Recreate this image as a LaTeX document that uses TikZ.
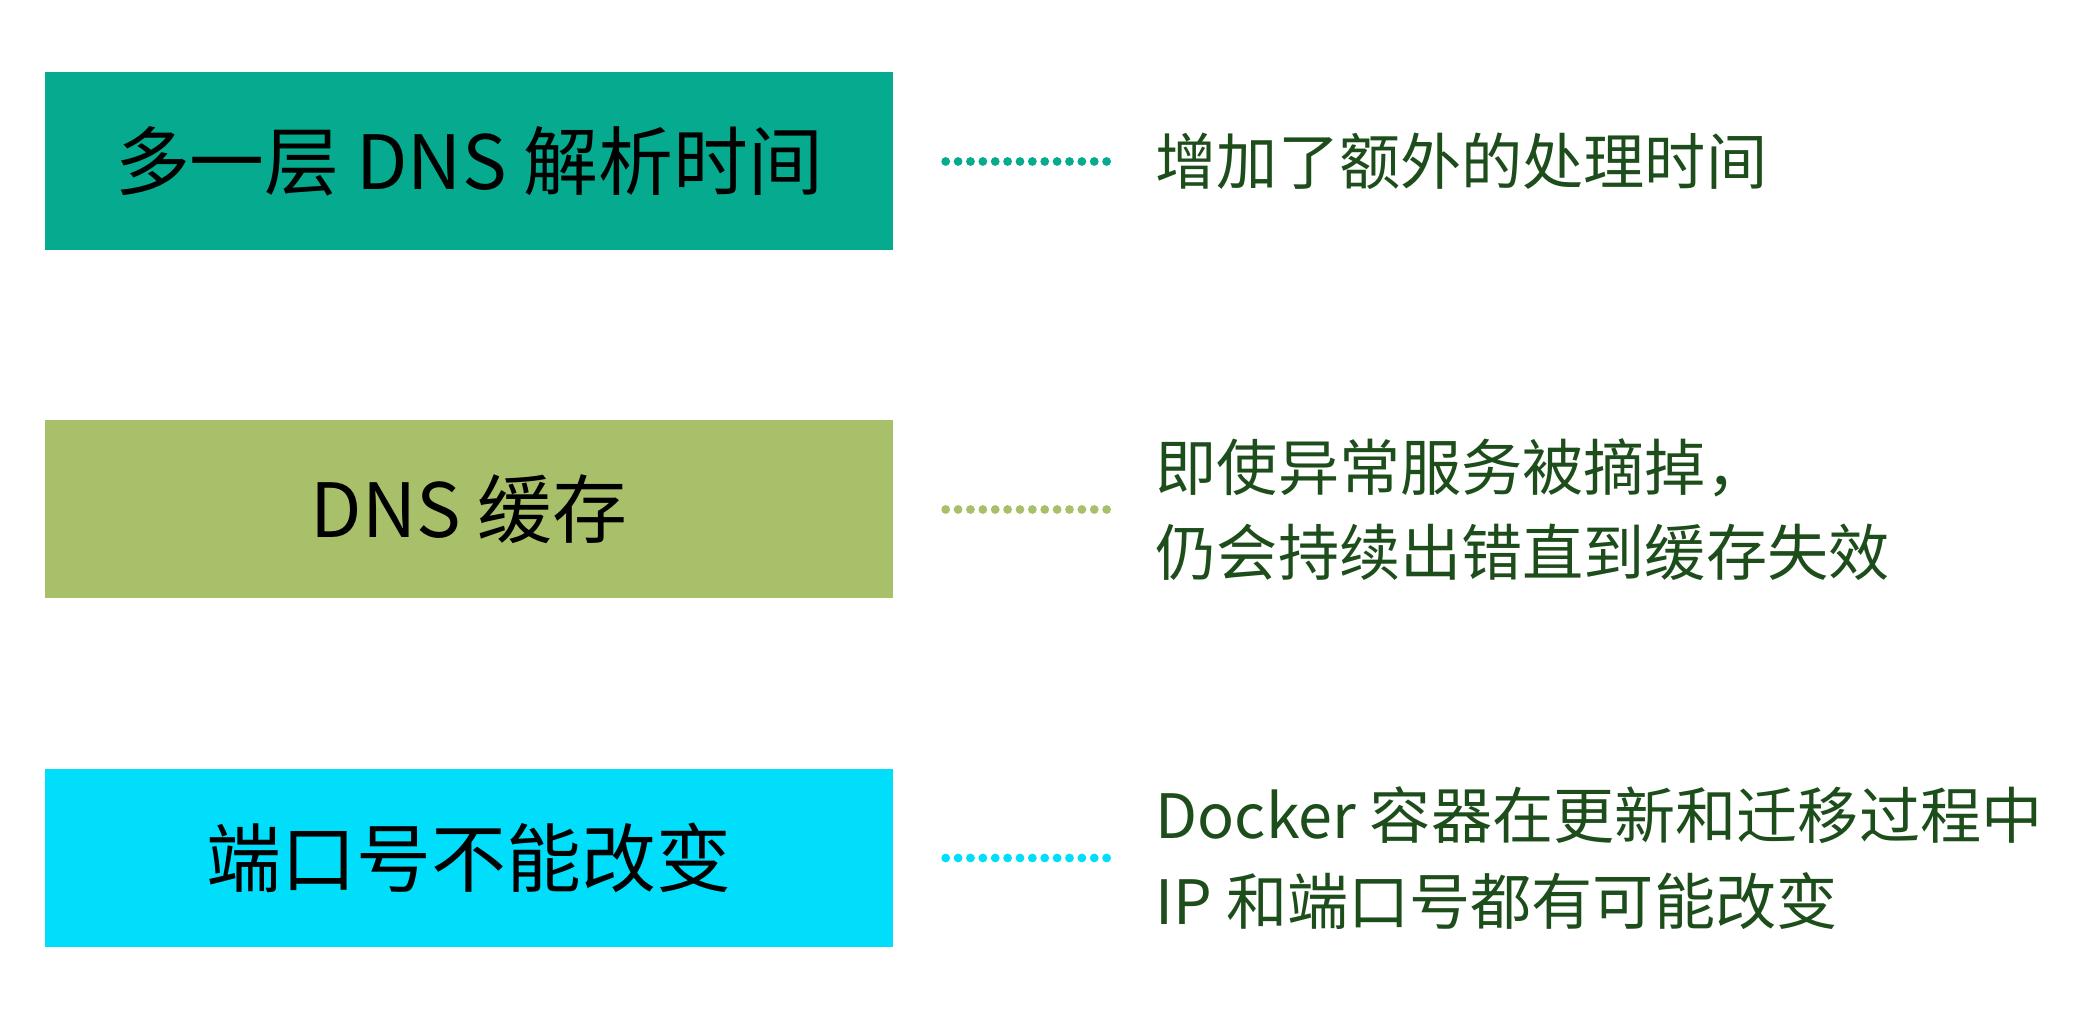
\documentclass[tikz,border=0pt]{standalone}
\usepackage{fontspec}
\newfontfamily\cjk{Noto Sans CJK SC}
\usetikzlibrary{positioning}
\definecolor{tealbox}{HTML}{06AB8F}
\definecolor{olivebox}{HTML}{A9C06B}
\definecolor{cyanbox}{HTML}{00DEFC}
\definecolor{notegreen}{HTML}{1C4D1A}

\begin{document}
\begin{tikzpicture}[
  box/.style = {rectangle, minimum width=8.48cm, minimum height=1.78cm, inner sep=0pt,
                font=\cjk\fontsize{21.3pt}{25pt}\selectfont, text=black},
  note/.style = {anchor=west, inner sep=0pt, align=left, text=notegreen,
                 font=\cjk\fontsize{17.4pt}{24.4pt}\selectfont},
  dotline/.style = {line width=0.088cm, line cap=round, dash pattern=on 0pt off 0.1238cm,
                    shorten <=0.52cm, shorten >=0.47cm}
]
\useasboundingbox (0,0) rectangle (20.86,-10.14);

% left boxes
\node[box, fill=tealbox] (dns) at (4.69,-1.615) {多一层 DNS 解析时间};
\node[box, fill=olivebox] (cache) at (4.69,-5.095) {DNS 缓存};
\node[box, fill=cyanbox] (port) at (4.69,-8.58) {端口号不能改变};

% right notes
\node[note] (dnsnote) at (11.55,-1.615) {增加了额外的处理时间};
\node[note] (cachenote) at (11.55,-5.095) {即使异常服务被摘掉，\\仍会持续出错直到缓存失效};
\node[note] (portnote) at (11.55,-8.58) {Docker 容器在更新和迁移过程中\\IP 和端口号都有可能改变};

% dotted links
\draw[dotline, tealbox] (dns.east) -- (dnsnote.west |- dns.east);
\draw[dotline, olivebox] (cache.east) -- (cachenote.west |- cache.east);
\draw[dotline, cyanbox] (port.east) -- (portnote.west |- port.east);
\end{tikzpicture}
\end{document}
